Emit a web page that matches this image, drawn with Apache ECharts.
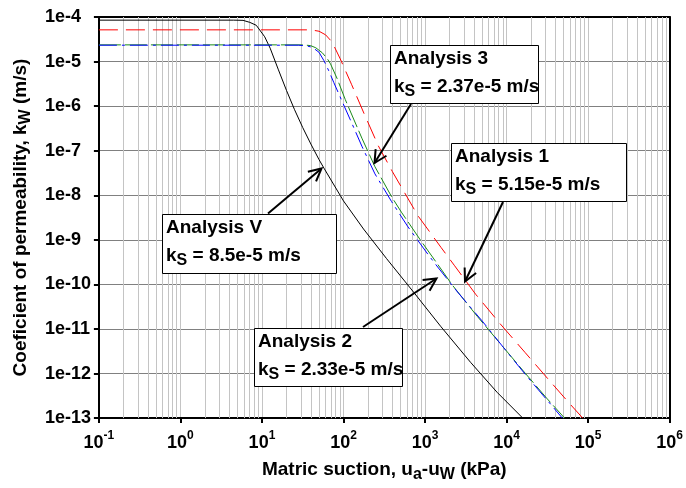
<!DOCTYPE html>
<html>
<head>
<meta charset="utf-8">
<script src="https://cdn.jsdelivr.net/npm/echarts@6/dist/echarts.min.js"></script>
<style>
html,body{margin:0;padding:0;background:#fff;}
#chart{width:686px;height:488px;}
</style>
</head>
<body>
<div id="chart"></div>
<script>
// ---------- tick labels ----------
const xTickExponents = [-1, 0, 1, 2, 3, 4, 5, 6];
const yTickLabels = ['1e-13','1e-12','1e-11','1e-10','1e-9','1e-8','1e-7','1e-6','1e-5','1e-4'];
const minorGridMultipliers = [2, 3, 4, 5, 6, 7, 8, 9];

// ---------- data: matric suction (kPa) and permeability (m/s) ----------
// Analysis V (ks = 8.5e-5 m/s), black solid
const suctionV = [0.1, 4.5, 5.86, 7.08, 8.51, 10.8, 12.6, 15.8, 20.0, 25.1, 31.6, 39.8, 50.1, 57.5, 100, 176, 337, 743, 1570, 3620, 7640, 15800];
const permV    = [8.5e-5, 8.5e-5, 8.41e-5, 7.59e-5, 6.52e-5, 3.60e-5, 2.00e-5, 6.76e-6, 2.24e-6, 8.32e-7, 3.31e-7, 1.41e-7, 6.31e-8, 4.07e-8, 7.46e-9, 1.75e-9, 3.80e-10, 6.31e-11, 1.12e-11, 1.78e-12, 3.80e-13, 1e-13];

// Analysis 1 (ks = 5.15e-5 m/s), red dashed
const suction1 = [0.1, 39.8, 50.1, 60.3, 72.4, 91.2, 126, 178, 267, 398, 818, 1570, 2280, 4170, 8390, 16900, 34000, 56500, 85900];
const perm1    = [5.15e-5, 5.15e-5, 4.79e-5, 3.98e-5, 2.75e-5, 1.15e-5, 3.02e-6, 6.92e-7, 1.29e-7, 3.39e-8, 3.47e-9, 6.76e-10, 2.69e-10, 6.03e-11, 1.29e-11, 2.95e-12, 6.76e-13, 2.34e-13, 1e-13];

// Analysis 3 (ks = 2.37e-5 m/s), green dashed
const suction3 = [0.1, 31.6, 39.5, 45.7, 54.8, 63.1, 69.2, 83.4, 105, 168, 243, 388, 513, 897, 1430, 2170, 4380, 8380, 16900, 30900, 51500];
const perm3    = [2.37e-5, 2.37e-5, 2.28e-5, 2.04e-5, 1.58e-5, 1.17e-5, 8.91e-6, 4.17e-6, 1.41e-6, 1.91e-7, 4.37e-8, 9.33e-9, 4.17e-9, 9.33e-10, 2.82e-10, 9.55e-11, 1.91e-11, 4.68e-12, 1.02e-12, 2.82e-13, 1e-13];

// Analysis 2 (ks = 2.33e-5 m/s), blue dash-dot
const suction2 = [0.1, 28.2, 35.5, 41.5, 50.0, 57.5, 66.1, 76.0, 95.9, 127, 168, 243, 388, 618, 1080, 1430, 2500, 5020, 9200, 17700, 30900, 48300];
const perm2    = [2.33e-5, 2.33e-5, 2.24e-5, 2.09e-5, 1.62e-5, 1.05e-5, 6.17e-6, 3.39e-6, 1.29e-6, 4.07e-7, 1.26e-7, 3.02e-8, 7.24e-9, 1.95e-9, 4.79e-10, 2.45e-10, 6.76e-11, 1.51e-11, 3.80e-12, 8.71e-13, 2.63e-13, 1e-13];

// ---------- annotation texts ----------
const annotationTitles = ['Analysis 3', 'Analysis 1', 'Analysis V', 'Analysis 2'];
const annotationKs = ['2.37e-5', '5.15e-5', '8.5e-5', '2.33e-5'];

// ---------- layout (pixels) ----------
const annotationLayout = [
  { box: [390, 45, 148, 58], tail: [411, 104], head: [374.5, 163] },
  { box: [451, 143, 175, 58], tail: [503, 202], head: [465, 281.5] },
  { box: [162, 214, 174, 59], tail: [268, 213.5], head: [321.5, 168.5] },
  { box: [254, 328, 148, 58], tail: [363, 327], head: [436.5, 278.5] }
];

const FONT = '"Liberation Sans", Arial, Helvetica, sans-serif';

function pairs(xs, ys) { return xs.map((x, i) => [x, ys[i]]); }

const minorLines = [];
for (let e = -1; e < 6; e++) {
  minorGridMultipliers.forEach(m => minorLines.push({ xAxis: m * Math.pow(10, e) }));
}

function arrowElems(t, h) {
  const dx = h[0] - t[0], dy = h[1] - t[1];
  const len = Math.sqrt(dx * dx + dy * dy);
  const ux = dx / len, uy = dy / len;
  const L = 14, th = 27 * Math.PI / 180;
  const arm = s => [h[0] - L * (ux * Math.cos(th) - s * uy * Math.sin(th)),
                    h[1] - L * (uy * Math.cos(th) + s * ux * Math.sin(th))];
  return [
    { type: 'line', shape: { x1: t[0], y1: t[1], x2: h[0], y2: h[1] }, style: { stroke: '#000', lineWidth: 2 }, z: 100 },
    { type: 'polyline', shape: { points: [arm(1), h, arm(-1)] }, style: { stroke: '#000', lineWidth: 2, fill: null }, z: 100 }
  ];
}

const graphics = [];
annotationLayout.forEach((a, i) => {
  const [bx, by, bw, bh] = a.box;
  graphics.push(...arrowElems(a.tail, a.head));
  graphics.push({ type: 'rect', shape: { x: bx + 0.5, y: by + 0.5, width: bw, height: bh },
    style: { fill: '#fff', stroke: '#000', lineWidth: 1 }, z: 101 });
  graphics.push({ type: 'text', x: bx + 4, y: by + 13.5, z: 102,
    style: { text: annotationTitles[i], fill: '#000', fontSize: 19, fontWeight: 'bold', fontFamily: FONT, verticalAlign: 'middle', align: 'left' } });
  graphics.push({ type: 'text', x: bx + 4, y: by + 42, z: 102,
    style: { text: '{m|k}{s|S}{m| = ' + annotationKs[i] + ' m/s}', fill: '#000', verticalAlign: 'middle', align: 'left',
      rich: {
        m: { fontSize: 19, fontWeight: 'bold', fontFamily: FONT, fill: '#000', lineHeight: 26 },
        s: { fontSize: 16, fontWeight: 'bold', fontFamily: FONT, fill: '#000', lineHeight: 16, verticalAlign: 'bottom' }
      } } });
});

const chart = echarts.init(document.getElementById('chart'), null, { renderer: 'canvas' });
chart.setOption({
  backgroundColor: '#fff',
  animation: false,
  grid: { left: 94, right: 15, top: 17, bottom: 65, containLabel: false },
  xAxis: [{
    type: 'log', logBase: 10, min: 0.1, max: 1e6, splitNumber: 7,
    position: 'bottom',
    name: 'Matric suction, u{sub|a}-u{sub|W} (kPa)',
    nameLocation: 'middle', nameGap: 27,
    nameTextStyle: { fontSize: 19, fontWeight: 'bold', fontFamily: FONT, color: '#000', lineHeight: 26,
      rich: { sub: { fontSize: 16, fontWeight: 'bold', fontFamily: FONT, color: '#000', lineHeight: 16, verticalAlign: 'bottom' } } },
    axisLine: { show: true, onZero: false, lineStyle: { color: '#000', width: 2 } },
    axisTick: { show: true, inside: false, length: 5, lineStyle: { color: '#000', width: 2 } },
    axisLabel: {
      margin: 12,
      formatter: function (v) {
        const e = Math.round(Math.log10(v));
        const idx = xTickExponents.indexOf(e);
        return idx < 0 ? '' : '{b|10}{s|' + xTickExponents[idx] + '}';
      },
      rich: {
        b: { fontSize: 18, fontWeight: 'bold', fontFamily: FONT, color: '#000', lineHeight: 26 },
        s: { fontSize: 12, fontWeight: 'bold', fontFamily: FONT, color: '#000', lineHeight: 12, verticalAlign: 'top' }
      }
    },
    splitLine: { show: true, lineStyle: { color: '#c4c4c4', width: 1 } },
    minorTick: { show: false }, minorSplitLine: { show: false }
  }, {
    type: 'log', logBase: 10, min: 0.1, max: 1e6, position: 'top',
    axisLine: { show: true, onZero: false, lineStyle: { color: '#000', width: 2 } },
    axisTick: { show: false }, axisLabel: { show: false }, splitLine: { show: false }
  }],
  yAxis: [{
    type: 'log', logBase: 10, min: 1e-13, max: 1e-4, splitNumber: 9,
    position: 'left',
    name: 'Coeficient of permeability, k{sub|W} (m/s)',
    nameLocation: 'middle', nameRotate: 90, nameGap: 62,
    nameTextStyle: { fontSize: 19, fontWeight: 'bold', fontFamily: FONT, color: '#000', lineHeight: 26,
      rich: { sub: { fontSize: 16, fontWeight: 'bold', fontFamily: FONT, color: '#000', lineHeight: 16, verticalAlign: 'bottom' } } },
    axisLine: { show: true, onZero: false, lineStyle: { color: '#000', width: 2 } },
    axisTick: { show: true, inside: false, length: 5, lineStyle: { color: '#000', width: 2 } },
    axisLabel: {
      margin: 54, align: 'left',
      fontSize: 18, fontWeight: 'bold', fontFamily: FONT, color: '#000',
      formatter: function (v) {
        const e = Math.round(Math.log10(v));
        return yTickLabels[e + 13] || '';
      }
    },
    splitLine: { show: true, lineStyle: { color: '#808080', width: 1 } },
    minorTick: { show: false }, minorSplitLine: { show: false }
  }, {
    type: 'log', logBase: 10, min: 1e-13, max: 1e-4, position: 'right',
    axisLine: { show: true, onZero: false, lineStyle: { color: '#000', width: 2 } },
    axisTick: { show: false }, axisLabel: { show: false }, splitLine: { show: false }
  }],
  series: [
    {
      name: 'minorGrid', type: 'line', xAxisIndex: 0, yAxisIndex: 0, z: 1,
      data: [[0.1, 1e-13]], showSymbol: false, symbol: 'none', lineStyle: { opacity: 0 }, silent: true,
      markLine: {
        silent: true, symbol: ['none', 'none'], label: { show: false },
        lineStyle: { color: '#c4c4c4', width: 1, type: 'solid' },
        emphasis: { disabled: true },
        data: minorLines
      }
    },
    {
      name: 'Analysis V', type: 'line', data: pairs(suctionV, permV), z: 5,
      symbol: 'none', smooth: false, lineStyle: { color: '#000', width: 1, type: 'solid' }
    },
    {
      name: 'Analysis 1', type: 'line', data: pairs(suction1, perm1), z: 5,
      symbol: 'none', smooth: false, lineStyle: { color: '#ff0000', width: 1, type: [19, 8] }
    },
    {
      name: 'Analysis 3', type: 'line', data: pairs(suction3, perm3), z: 5,
      symbol: 'none', smooth: false, lineStyle: { color: '#1a8a1a', width: 1, type: [22, 4] }
    },
    {
      name: 'Analysis 2', type: 'line', data: pairs(suction2, perm2), z: 6,
      symbol: 'none', smooth: false, lineStyle: { color: '#0000ff', width: 1, type: [18, 5, 3, 5] }
    }
  ],
  graphic: graphics
});
</script>
</body>
</html>
